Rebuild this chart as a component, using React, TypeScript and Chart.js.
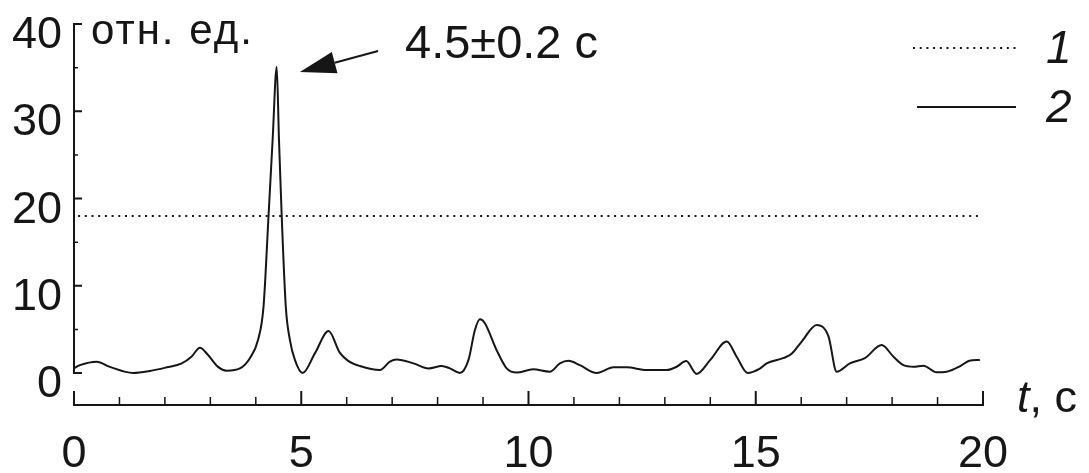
import React, { useEffect, useRef } from 'react';
import { Chart, registerables } from 'chart.js';

Chart.register(...registerables);

// ---- data ----
const xMajorTicks = [0, 5, 10, 15, 20];
const xMinorTicks = [1, 2, 3, 4, 6, 7, 8, 9, 11, 12, 13, 14, 16, 17, 18, 19];
const yMajorTicks = [0, 10, 20, 30, 40];
const yMinorTicks = [5, 15, 25, 35];

const series1T = [0.09, 19.89];
const series1V = [18, 18];

const series2T = [
  0.0, 0.13, 0.5, 0.79, 1.3, 1.67, 2.04, 2.37, 2.59, 2.77, 2.95, 3.17, 3.36, 3.65, 3.87,
  4.05, 4.17, 4.28, 4.37, 4.46, 4.51, 4.57, 4.66, 4.75, 4.86, 5.03, 5.3, 5.6, 5.85, 6.04,
  6.29, 6.73, 6.95, 7.1, 7.47, 7.8, 8.09, 8.27, 8.49, 8.68, 8.82, 8.93, 9.04, 9.3, 9.52,
  9.74, 10.1, 10.47, 10.69, 10.88, 11.13, 11.5, 11.87, 12.16, 12.6, 13.04, 13.26, 13.47,
  13.7, 14.0, 14.36, 14.58, 14.82, 15.09, 15.24, 15.6, 15.79, 16.01, 16.34, 16.6, 16.78,
  17.07, 17.4, 17.77, 18.03, 18.25, 18.47, 18.69, 18.98, 19.2, 19.5, 19.7, 19.93,
];
const series2V = [
  0.55, 0.9, 1.3, 0.7, 0.0, 0.23, 0.65, 1.1, 1.9, 2.9, 2.06, 0.7, 0.27, 0.53, 1.7,
  3.8, 7.6, 18, 26.7, 35.1, 26.7, 18, 7.6, 3.8, 1.5, 0.0, 2.25, 4.8, 2.3, 1.37,
  0.8, 0.34, 1.3, 1.55, 1.1, 0.53, 0.8, 0.53, 0.0, 1.5, 4.9, 6.15, 5.7, 2.6, 0.53,
  0.05, 0.42, 0.15, 1.1, 1.4, 0.9, 0.0, 0.65, 0.65, 0.34, 0.34, 0.72, 1.37,
  -0.1, 1.5, 3.6, 1.87, 0.0, 0.5, 1.1, 1.7, 2.2, 3.6, 5.5, 4.2, 0.15,
  1.1, 1.7, 3.2, 1.87, 0.9, 0.72, 0.84, 0.08, 0.15, 0.8, 1.4, 1.5,
];

const legendLabels = ['1', '2'];
const yUnitLabel = 'отн. ед.';
const xUnitVar = 't';
const xUnitRest = ', с';
const annotationText = '4.5±0.2 с';

const INK = '#161616';
const FONT = '"Liberation Sans", Arial, sans-serif';

const axesPlugin = {
  id: 'customAxes',
  afterDraw(chart: any) {
    const ctx = chart.ctx as CanvasRenderingContext2D;
    const xs = chart.scales.x;
    const ys = chart.scales.y;
    const area = chart.chartArea;
    ctx.save();
    ctx.strokeStyle = INK;
    ctx.fillStyle = INK;
    ctx.lineWidth = 2;
    ctx.lineCap = 'butt';

    // Y axis
    const x0 = xs.getPixelForValue(0);
    ctx.beginPath();
    ctx.moveTo(x0, ys.getPixelForValue(0) + 1);
    ctx.lineTo(x0, ys.getPixelForValue(40) - 1);
    ctx.stroke();
    ctx.beginPath();
    yMajorTicks.forEach((v) => {
      const py = ys.getPixelForValue(v);
      ctx.moveTo(x0 - 1, py);
      ctx.lineTo(x0 + 8, py);
    });
    ctx.stroke();
    ctx.lineWidth = 1.5;
    ctx.beginPath();
    yMinorTicks.forEach((v) => {
      const py = ys.getPixelForValue(v);
      ctx.moveTo(x0, py);
      ctx.lineTo(x0 + 4, py);
    });
    ctx.stroke();

    // X axis
    ctx.lineWidth = 2;
    const by = area.bottom;
    ctx.beginPath();
    ctx.moveTo(xs.getPixelForValue(0) - 1, by);
    ctx.lineTo(xs.getPixelForValue(20) + 1, by);
    ctx.stroke();
    ctx.beginPath();
    xMajorTicks.forEach((v) => {
      const px = xs.getPixelForValue(v);
      ctx.moveTo(px, by);
      ctx.lineTo(px, by - 14);
    });
    ctx.stroke();
    ctx.lineWidth = 1.5;
    ctx.beginPath();
    xMinorTicks.forEach((v) => {
      const px = xs.getPixelForValue(v);
      ctx.moveTo(px, by);
      ctx.lineTo(px, by - 8);
    });
    ctx.stroke();

    // tick labels
    ctx.font = `45px ${FONT}`;
    ctx.textBaseline = 'alphabetic';
    ctx.textAlign = 'right';
    yMajorTicks.forEach((v) => {
      ctx.fillText(String(v), x0 - 12, ys.getPixelForValue(v) + 24);
    });
    ctx.textAlign = 'center';
    xMajorTicks.forEach((v) => {
      ctx.fillText(String(v), xs.getPixelForValue(v), by + 62);
    });

    // axis titles
    ctx.textAlign = 'left';
    ctx.font = `42px ${FONT}`;
    (ctx as any).letterSpacing = '2px';
    ctx.fillText(yUnitLabel, 91, 44);
    (ctx as any).letterSpacing = '0px';
    ctx.font = `italic 45px ${FONT}`;
    ctx.fillText(xUnitVar, 1017, 412);
    const tw = ctx.measureText(xUnitVar).width;
    ctx.font = `45px ${FONT}`;
    ctx.fillText(xUnitRest, 1017 + tw, 412);

    // annotation text
    ctx.font = `47px ${FONT}`;
    ctx.fillText(annotationText, 405, 58);

    // arrow
    const tipX = xs.getPixelForValue(4.97);
    const tipY = ys.getPixelForValue(34.5);
    const fromX = xs.getPixelForValue(6.69);
    const fromY = ys.getPixelForValue(36.9);
    const dx = fromX - tipX;
    const dy = fromY - tipY;
    const len = Math.hypot(dx, dy);
    const ux = dx / len;
    const uy = dy / len;
    const headLen = 36;
    const halfW = 11;
    const bx = tipX + ux * headLen;
    const by2 = tipY + uy * headLen;
    ctx.lineWidth = 2;
    ctx.beginPath();
    ctx.moveTo(fromX, fromY);
    ctx.lineTo(bx, by2);
    ctx.stroke();
    ctx.beginPath();
    ctx.moveTo(tipX, tipY);
    ctx.lineTo(bx - uy * halfW, by2 + ux * halfW);
    ctx.lineTo(bx + uy * halfW, by2 - ux * halfW);
    ctx.closePath();
    ctx.fill();

    // legend
    const ds = chart.data.datasets;
    const legendRows = [48, 107];
    legendRows.forEach((ly, i) => {
      const d = ds[i];
      ctx.save();
      ctx.strokeStyle = d.borderColor;
      ctx.lineWidth = d.borderWidth;
      ctx.setLineDash(d.borderDash || []);
      ctx.beginPath();
      ctx.moveTo(i === 0 ? 913 : 917, ly);
      ctx.lineTo(1016, ly);
      ctx.stroke();
      ctx.restore();
      ctx.font = `italic 46px ${FONT}`;
      ctx.textAlign = 'left';
      ctx.fillText(legendLabels[i], 1046, ly + 15);
    });

    ctx.restore();
  },
};

export default function App() {
  const canvasRef = useRef<HTMLCanvasElement | null>(null);

  useEffect(() => {
    const canvas = canvasRef.current;
    if (!canvas) return;
    const chart = new Chart(canvas, {
      type: 'line',
      data: {
        datasets: [
          {
            label: legendLabels[0],
            data: series1T.map((t, i) => ({ x: t, y: series1V[i] })),
            borderColor: INK,
            borderWidth: 2,
            borderDash: [2, 4.7],
            pointRadius: 0,
            tension: 0,
          },
          {
            label: legendLabels[1],
            data: series2T.map((t, i) => ({ x: t, y: series2V[i] })),
            borderColor: INK,
            borderWidth: 2,
            pointRadius: 0,
            cubicInterpolationMode: 'monotone',
          },
        ],
      },
      options: {
        responsive: false,
        animation: false,
        layout: { padding: { left: 74, right: 106, top: 24, bottom: 68 } },
        plugins: { legend: { display: false }, tooltip: { enabled: false } },
        scales: {
          x: { type: 'linear', min: 0, max: 20, display: false },
          y: { type: 'linear', min: -3.667, max: 40, display: false },
        },
      },
      plugins: [axesPlugin],
    });
    return () => chart.destroy();
  }, []);

  return (
    <div style={{ position: 'absolute', left: 0, top: 0, width: 1089, height: 473, background: '#fff' }}>
      <canvas ref={canvasRef} width={1089} height={473} style={{ display: 'block' }} />
    </div>
  );
}
